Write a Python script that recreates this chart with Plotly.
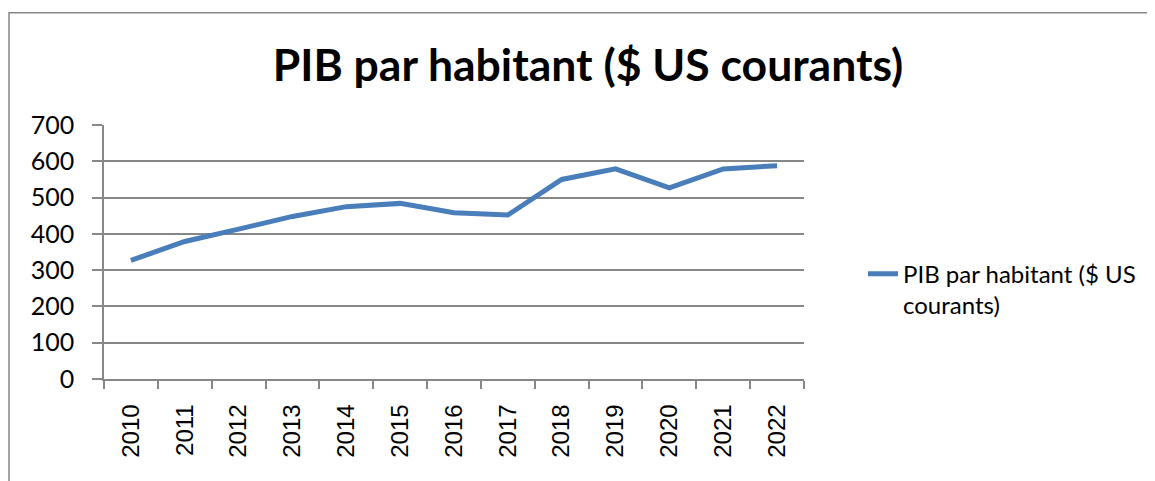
import plotly.graph_objects as go

years = ["2010", "2011", "2012", "2013", "2014", "2015", "2016",
         "2017", "2018", "2019", "2020", "2021", "2022"]
pib = [327, 379, 413, 448, 475, 484, 458, 452, 550, 579, 527, 579, 588]
y_ticks = [0, 100, 200, 300, 400, 500, 600, 700]
series_name = "PIB par habitant ($ US<br>courants)"
title_text = "PIB par habitant ($ US courants)"

W, H = 1155, 481
OFF = 8  # page body margin
L, R, T, B = 104 - OFF, 804 - OFF, 125 - OFF, 379.5 - OFF

def px_x(v):
    return (v - OFF - L) / (R - L)

def px_y(v):
    return (B - (v - OFF)) / (B - T)

fig = go.Figure()
fig.add_trace(go.Scatter(
    x=years, y=pib, mode="lines", name=series_name,
    line=dict(color="#4a7ebb", width=5),
))

gray = "#878787"
fig.update_layout(
    width=W, height=H,
    margin=dict(l=L, r=W - R, t=T, b=H - B, pad=0),
    paper_bgcolor="white", plot_bgcolor="white",
    title=dict(text="<b>" + title_text + "</b>", x=(588 - OFF) / W, xanchor="center",
               y=1 - (65 - OFF) / H, yanchor="middle", yref="container",
               font=dict(family="Lato", size=44.5, color="black")),
    showlegend=True,
    legend=dict(x=px_x(863), xanchor="left", y=px_y(290),
                yanchor="middle", valign="top",
                font=dict(family="Lato", size=24, color="black"),
                bgcolor="rgba(0,0,0,0)", itemwidth=30, tracegroupgap=0),
    xaxis=dict(type="category", showgrid=False, showline=True, linecolor=gray,
               linewidth=1.5, ticks="outside", tickson="boundaries", ticklen=8,
               tickcolor=gray, tickwidth=1.5, tickangle=-90, ticklabelstandoff=14,
               tickfont=dict(family="Liberation Sans", size=24, color="black"),
               range=[-0.5, len(years) - 0.5]),
    yaxis=dict(range=[0, 700], tickvals=y_ticks, showgrid=True, gridcolor=gray,
               gridwidth=1.5, showline=True, linecolor=gray, linewidth=1.5,
               ticks="outside", ticklen=10, tickcolor=gray, tickwidth=1.5,
               ticklabelstandoff=13,
               tickfont=dict(family="Lato", size=25, color="black"),
               zeroline=False),
    shapes=[dict(type="rect", xref="paper", yref="paper",
                 x0=px_x(9), x1=px_x(1180),
                 y0=px_y(520), y1=px_y(12.5),
                 line=dict(color=gray, width=1.5), fillcolor="rgba(0,0,0,0)",
                 layer="below")],
)
fig.write_html("out.html")
